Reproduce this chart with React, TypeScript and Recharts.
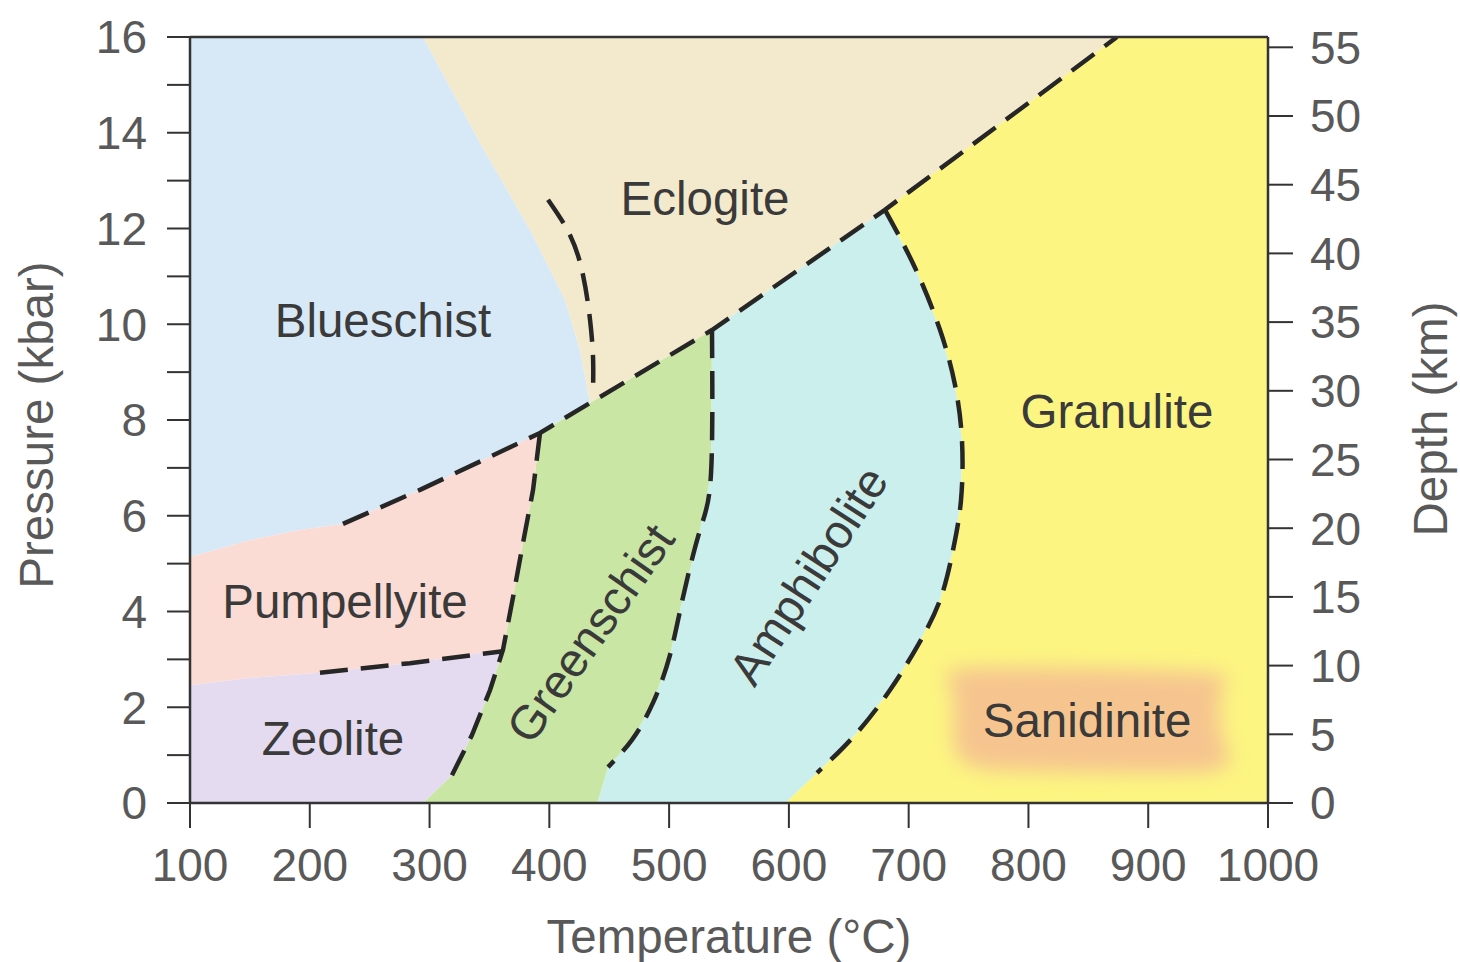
import React from 'react';
import { ComposedChart, Area, Line, XAxis, YAxis, ReferenceDot } from 'recharts';

// ---------- axes ----------
const tempTicks = [100, 200, 300, 400, 500, 600, 700, 800, 900, 1000];
const pressureTicks = [0, 1, 2, 3, 4, 5, 6, 7, 8, 9, 10, 11, 12, 13, 14, 15, 16];
const depthTicks = [0, 5, 10, 15, 20, 25, 30, 35, 40, 45, 50, 55];

// ---------- facies boundaries: [temperature °C, pressure kbar] ----------
const mainBoundary = [[227.7, 5.83], [292.0, 6.54], [358.8, 7.33], [392.2, 7.73], [535.8, 9.88], [680.2, 12.39], [873.9, 16.0]];
const blueEclogiteDashed = [[398.9, 12.6], [417.3, 11.86], [428.1, 11.03], [434.0, 10.09], [436.5, 9.3], [436.5, 8.67]];
const greenLeftDashed = [[392.2, 7.73], [386.4, 6.54], [378.0, 5.43], [369.7, 4.3], [361.3, 3.2], [350.5, 2.36], [335.4, 1.42], [318.7, 0.58]];
const pumpZeoliteDashed = [[208.5, 2.72], [283.7, 2.92], [361.3, 3.17]];
const greenRightDashed = [[535.8, 9.88], [535.0, 6.89], [525.8, 5.7], [511.6, 4.3], [500.7, 3.09], [486.5, 2.09], [469.0, 1.32], [449.0, 0.75]];
const amphGranDashed = [[680.2, 12.39], [705.3, 11.18], [726.2, 9.88], [738.7, 8.73], [744.5, 7.58], [743.7, 6.33], [737.0, 5.28], [726.2, 4.24], [707.8, 3.3], [684.4, 2.36], [655.2, 1.42], [623.5, 0.63]];

// colour-field edges (where fills meet without a dashed line)
const blueEclogiteEdge = [[294.5, 16], [342.1, 13.79], [383.9, 11.97], [413.1, 10.51], [425.6, 9.46], [434.0, 8.36]];
const bluePumpEdge = [[100, 5.14], [150.1, 5.49], [191.8, 5.7], [227.7, 5.83]];
const pumpZeoliteEdge = [[100, 2.46], [150.1, 2.61], [208.5, 2.72], [283.7, 2.92], [361.3, 3.2]];
const greenBottom = [[294.5, 0], [440, 0]];
const sanidiniteBlob = [[767.9, 0.69], [943.2, 0.65], [964.1, 1.21], [961.6, 2.36], [934.9, 2.74], [759.6, 2.82], [736.2, 2.36], [738.7, 1.11], [767.9, 0.69]];

// ---------- labels ----------
const faciesNames = ['Blueschist', 'Eclogite', 'Granulite', 'Pumpellyite', 'Zeolite', 'Sanidinite', 'Greenschist', 'Amphibolite'];
const faciesLabelT = [261.1, 530.0, 873.9, 229.4, 219.4, 848.9, 434.0, 616.0];
const faciesLabelP = [10.09, 12.64, 8.19, 4.22, 1.36, 1.73, 3.55, 4.76];
const faciesLabelAngle = [0, 0, 0, 0, 0, 0, -55, -57];

const FONT = '"Liberation Sans", Arial, Helvetica, sans-serif';
const W = 1460;
const H = 962;

type Pair = number[];
const rev = (a: Pair[]) => a.slice().reverse();
const toPts = (a: Pair[]) => a.map(([t, p]) => ({ t, p }));
const closed = (...parts: Pair[][]) => {
  const all = parts.flat();
  const f = all[0];
  const l = all[all.length - 1];
  if (f[0] !== l[0] || f[1] !== l[1]) all.push(f);
  return toPts(all);
};

const blueschistPoly = closed([[100, 5.14], [100, 16]], blueEclogiteEdge, rev(mainBoundary.slice(0, 4)), rev(bluePumpEdge));
const eclogitePoly = closed([[873.9, 16]], rev(mainBoundary.slice(3)).slice(1), [[434.0, 8.36]], rev(blueEclogiteEdge));
const granulitePoly = closed([[597, 0], [1000, 0], [1000, 16], [873.9, 16]], amphGranDashed);
const amphibolitePoly = closed([[440, 0]], rev(greenRightDashed), amphGranDashed, [[597, 0]]);
const greenschistPoly = closed(greenBottom, rev(greenRightDashed), [[392.2, 7.73]], greenLeftDashed, [[294.5, 0]]);
const pumpellyitePoly = closed([[100, 2.46], [100, 5.14]], bluePumpEdge.slice(1), mainBoundary.slice(1, 4), greenLeftDashed.slice(1, 5), rev(pumpZeoliteEdge).slice(1));
const zeolitePoly = closed([[100, 0], [100, 2.46]], pumpZeoliteEdge.slice(1), greenLeftDashed.slice(5), [[294.5, 0]]);

const fills = [
  { key: 'blueschist', data: blueschistPoly, color: '#d7e8f6' },
  { key: 'eclogite', data: eclogitePoly, color: '#f3e9cc' },
  { key: 'granulite', data: granulitePoly, color: '#fcf581' },
  { key: 'amphibolite', data: amphibolitePoly, color: '#cbefec' },
  { key: 'greenschist', data: greenschistPoly, color: '#c9e6a4' },
  { key: 'pumpellyite', data: pumpellyitePoly, color: '#fadcd4' },
  { key: 'zeolite', data: zeolitePoly, color: '#e4dbf0' },
];

const dashed = [
  { key: 'main', data: toPts(mainBoundary), type: 'linear' },
  { key: 'be', data: toPts(blueEclogiteDashed), type: 'natural' },
  { key: 'gl', data: toPts(greenLeftDashed), type: 'linear' },
  { key: 'pz', data: toPts(pumpZeoliteDashed), type: 'linear' },
  { key: 'gr', data: toPts(greenRightDashed), type: 'natural' },
  { key: 'ag', data: toPts(amphGranDashed), type: 'natural' },
];

const AXIS = '#333';
const TICK_FILL = '#595959';

const TitleBottom = (props: any) => {
  const vb = props.viewBox || { x: 190, y: 803, width: 1078, height: 70 };
  const cx = vb.x + vb.width / 2;
  return (
    <text x={cx} y={vb.y + 150} textAnchor="middle" fill={TICK_FILL} fontSize={47.5} fontFamily={FONT}>
      Temperature (°C)
    </text>
  );
};
const TitleLeft = (props: any) => {
  const vb = props.viewBox || { x: 90, y: 37, width: 100, height: 766 };
  const cx = vb.x - 53.5;
  const cy = vb.y + vb.height / 2 + 5;
  return (
    <text x={cx} y={cy + 16.5} transform={`rotate(-90, ${cx}, ${cy})`} textAnchor="middle" fill={TICK_FILL} fontSize={47.5} fontFamily={FONT}>
      Pressure (kbar)
    </text>
  );
};
const TitleRight = (props: any) => {
  const vb = props.viewBox || { x: 1268, y: 37, width: 100, height: 766 };
  const cx = vb.x + 162;
  const cy = vb.y + vb.height / 2 - 1;
  return (
    <text x={cx} y={cy + 16.5} transform={`rotate(-90, ${cx}, ${cy})`} textAnchor="middle" fill={TICK_FILL} fontSize={47.5} fontFamily={FONT}>
      Depth (km)
    </text>
  );
};

export default function App() {
  return (
    <div style={{ position: 'fixed', left: 0, top: 0, width: W, height: H, background: '#ffffff', fontFamily: FONT }}>
      <svg width={0} height={0} style={{ position: 'absolute' }}>
        <defs>
          <filter id="sanBlur" x="-20%" y="-40%" width="140%" height="180%">
            <feGaussianBlur stdDeviation="10" />
          </filter>
        </defs>
      </svg>
      <ComposedChart width={W} height={H} margin={{ top: 12, right: 92, bottom: 89, left: 90 }}>
        <XAxis
          dataKey="t"
          type="number"
          domain={[100, 1000]}
          ticks={tempTicks}
          allowDataOverflow
          interval={0}
          height={70}
          tickSize={25}
          tickMargin={20}
          axisLine={{ stroke: AXIS, strokeWidth: 2.5 }}
          tickLine={{ stroke: AXIS, strokeWidth: 2 }}
          tick={{ fill: TICK_FILL, fontSize: 46, fontFamily: FONT }}
          label={{ content: (p: any) => <TitleBottom {...p} /> }}
        />
        <XAxis
          xAxisId="top"
          orientation="top"
          dataKey="t"
          type="number"
          domain={[100, 1000]}
          ticks={tempTicks}
          allowDataOverflow
          interval={0}
          height={25}
          tickSize={22}
          tick={false}
          axisLine={{ stroke: AXIS, strokeWidth: 2.5 }}
          tickLine={{ stroke: AXIS, strokeWidth: 2 }}
        />
        <YAxis
          dataKey="p"
          type="number"
          domain={[0, 16]}
          ticks={pressureTicks}
          allowDataOverflow
          interval={0}
          width={100}
          tickSize={23}
          tickMargin={20}
          tickFormatter={(v: number) => (v % 2 === 0 ? String(v) : '')}
          axisLine={{ stroke: AXIS, strokeWidth: 2.5 }}
          tickLine={{ stroke: AXIS, strokeWidth: 2 }}
          tick={{ fill: TICK_FILL, fontSize: 46, fontFamily: FONT }}
          label={{ content: (p: any) => <TitleLeft {...p} /> }}
        />
        <YAxis
          yAxisId="depth"
          orientation="right"
          type="number"
          domain={[0, 55.75]}
          ticks={depthTicks}
          allowDataOverflow
          interval={0}
          width={100}
          tickSize={25}
          tickMargin={17}
          axisLine={{ stroke: AXIS, strokeWidth: 2.5 }}
          tickLine={{ stroke: AXIS, strokeWidth: 2 }}
          tick={{ fill: TICK_FILL, fontSize: 46, fontFamily: FONT }}
          label={{ content: (p: any) => <TitleRight {...p} /> }}
        />

        {fills.map((f) => (
          <Area
            key={f.key}
            data={f.data}
            dataKey="p"
            type="linear"
            stroke="none"
            fill={f.color}
            fillOpacity={1}
            dot={false}
            activeDot={false}
            isAnimationActive={false}
          />
        ))}
        <Area
          data={toPts(sanidiniteBlob)}
          dataKey="p"
          type="natural"
          stroke="none"
          fill="#f6c58f"
          fillOpacity={1}
          filter="url(#sanBlur)"
          dot={false}
          activeDot={false}
          isAnimationActive={false}
        />

        {dashed.map((d) => (
          <Line
            key={d.key}
            data={d.data}
            dataKey="p"
            type={d.type as any}
            stroke="#262626"
            strokeWidth={4.5}
            strokeDasharray="28 13"
            dot={false}
            activeDot={false}
            isAnimationActive={false}
          />
        ))}

        {faciesNames.map((name, i) => (
          <ReferenceDot
            key={name}
            x={faciesLabelT[i]}
            y={faciesLabelP[i]}
            r={0}
            fill="none"
            stroke="none"
            label={{
              value: name,
              position: 'center',
              angle: faciesLabelAngle[i],
              fill: '#3a3a3a',
              fontSize: 47.5,
              fontFamily: FONT,
            }}
          />
        ))}
      </ComposedChart>
    </div>
  );
}
